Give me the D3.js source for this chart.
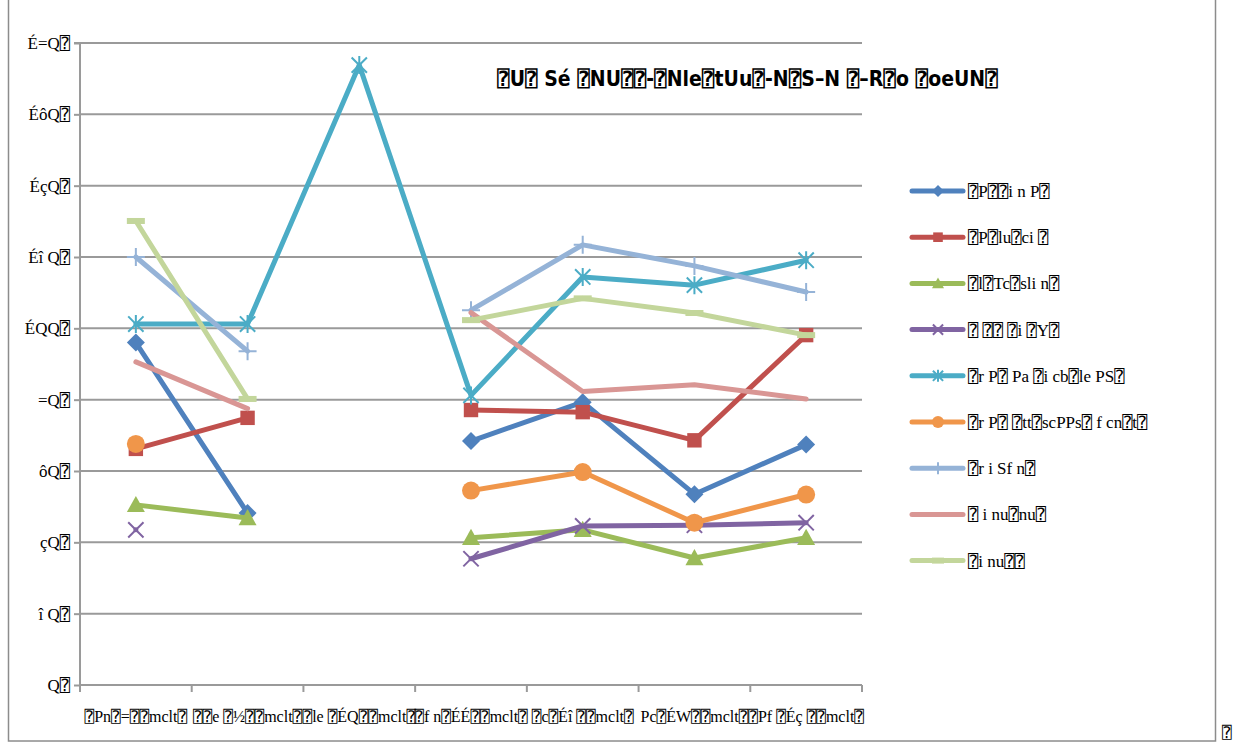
<!DOCTYPE html>
<html>
<head>
<meta charset="utf-8">
<script src="https://cdn.jsdelivr.net/npm/d3@7"></script>
<style>
  body { margin: 0; background: #fff; }
  svg text { font-family: "Liberation Serif", "DejaVu Sans Mono", "DejaVu Sans", serif; }
  svg text.title { font-family: "Liberation Sans Narrow", "DejaVu Sans Condensed", "DejaVu Sans Mono", sans-serif; font-weight: bold; }
</style>
</head>
<body>
<svg id="chart" width="1239" height="742"></svg>
<script>
// missing glyph box
const T = "\u2370";
const fix = s => s.replace(/□/g, T);

// chart data
const categories = ["□Pn□=□□mclt□", "□□e □½□□mclt□", "□le □ÉQ□□mclt□", "□f n□ÉÉ□□mclt□",
  "□c□Éî □□mclt□", "Pc□ÉW□□mclt□", "□Pf □Éç □□mclt□"].map(fix);
const yTicks = [0, 20, 40, 60, 80, 100, 120, 140, 160, 180];
const yTickLabels = ["Q□", "î Q□", "çQ□", "ôQ□", "=Q□", "ÉQQ□", "Éî Q□", "ÉçQ□", "ÉôQ□", "É=Q□"].map(fix);
const titleText = fix("□U□ Sé □NU□□-□Nle□tUu□-N□S–N □–R□o □oeUN□");

const seriesNames = ["□P□□i n  P□", "□P□lu□ci □", "□l□Tc□sli n□", "□ □□ □i   □Y□",
  "□r P□ Pa □i cb□le PS□", "□r P□  □tt□scPPs□ f cn□t□", "□r i Sf n□", "□ i nu□nu□", "□i nu□□"].map(fix);
const seriesColors = ["#4F81BD", "#C0504D", "#9BBB59", "#8064A2", "#4BACC6", "#F0964A", "#95B3D7", "#D99694", "#C3D69B"];
const seriesMarkers = ["diamond", "square", "triangle", "x", "star", "circle", "plus", "none", "dash"];

const s1 = [96, 48.2, null, 68.4, 79.3, 53.5, 67.4];
const s2 = [66.2, 74.9, null, 77.1, 76.5, 68.6, 98.1];
const s3 = [50.5, 46.8, null, 41.3, 43.5, 35.6, 41.3];
const s4 = [43.5, null, null, 35.4, 44.6, 44.8, 45.5];
const s5 = [101.2, 101.2, 173.8, 81.2, 114.4, 112.1, 119.1];
const s6 = [67.6, null, null, 54.5, 59.7, 45.5, 53.4];
const s7 = [120, 93.6, null, 105.1, 123.4, 117.5, 110.2];
const s8 = [90.6, 77.5, null, 104.4, 82.3, 84.2, 80.2];
const s9 = [130.1, 80.2, null, 102.3, 108.4, 104.3, 98.1];
const seriesValues = [s1, s2, s3, s4, s5, s6, s7, s8, s9];

const svg = d3.select("#chart");

// outer frame
svg.append("rect")
  .attr("x", 8.5).attr("y", -2)
  .attr("width", 1207).attr("height", 743)
  .attr("fill", "none").attr("stroke", "#8c8c8c").attr("stroke-width", 1.5);

svg.append("text")
  .attr("x", 1222).attr("y", 738)
  .attr("font-size", "16px")
  .text(T);

const plot = { left: 80, right: 862, top: 43, bottom: 685 };

const x = d3.scalePoint()
  .domain(d3.range(categories.length))
  .range([plot.left, plot.right])
  .padding(0.5);
const step = x.step();

const y = d3.scaleLinear().domain([0, 180]).range([plot.bottom, plot.top]);

// gridlines
svg.append("g")
  .selectAll("line")
  .data(yTicks)
  .join("line")
  .attr("x1", plot.left).attr("x2", plot.right)
  .attr("y1", d => y(d)).attr("y2", d => y(d))
  .attr("stroke", "#9a9a9a").attr("stroke-width", 2);

// y axis
const yAxis = svg.append("g")
  .attr("transform", `translate(${plot.left},0)`)
  .call(d3.axisLeft(y).tickValues(yTicks).tickSize(6).tickPadding(4)
    .tickFormat((d, i) => yTickLabels[i]));
yAxis.attr("font-family", null);
yAxis.select(".domain").attr("stroke", "#9a9a9a").attr("stroke-width", 2)
  .attr("d", `M-6,${plot.top}H0V${plot.bottom + 2}`);
yAxis.selectAll(".tick line").attr("stroke", "#9a9a9a").attr("stroke-width", 2);
yAxis.selectAll(".tick text")
  .attr("font-size", "17px").attr("fill", "#000");

// x axis
const xAxisG = svg.append("g").attr("transform", `translate(0,${plot.bottom})`);
xAxisG.append("line")
  .attr("x1", plot.left).attr("x2", plot.right)
  .attr("stroke", "#9a9a9a").attr("stroke-width", 2);
xAxisG.selectAll(".xt")
  .data(d3.range(categories.length + 1))
  .join("line")
  .attr("class", "xt")
  .attr("x1", d => plot.left + d * step).attr("x2", d => plot.left + d * step)
  .attr("y1", 0).attr("y2", 7)
  .attr("stroke", "#9a9a9a").attr("stroke-width", 2);
xAxisG.selectAll(".xl")
  .data(categories)
  .join("text")
  .attr("class", "xl")
  .attr("x", (d, i) => x(i))
  .attr("y", 37)
  .attr("text-anchor", "middle")
  .attr("font-size", "16px")
  .text(d => d);

// marker drawing
function drawMarker(g, type, color, size) {
  const s = size;
  if (type === "diamond") {
    g.append("path").attr("d", `M0,${-s}L${s},0L0,${s}L${-s},0Z`).attr("fill", color);
  } else if (type === "square") {
    g.append("rect").attr("x", -s * 0.8).attr("y", -s * 0.8)
      .attr("width", s * 1.6).attr("height", s * 1.6).attr("fill", color);
  } else if (type === "triangle") {
    g.append("path").attr("d", `M0,${-s}L${s},${s * 0.8}L${-s},${s * 0.8}Z`).attr("fill", color);
  } else if (type === "circle") {
    g.append("circle").attr("r", s).attr("fill", color);
  } else if (type === "x") {
    const a = s * 0.85;
    g.append("path").attr("d", `M${-a},${-a}L${a},${a}M${a},${-a}L${-a},${a}`)
      .attr("stroke", color).attr("stroke-width", 2).attr("fill", "none");
  } else if (type === "star") {
    const a = s * 0.85;
    g.append("path").attr("d", `M${-a},${-a}L${a},${a}M${a},${-a}L${-a},${a}M0,${-s}L0,${s}`)
      .attr("stroke", color).attr("stroke-width", 2).attr("fill", "none");
  } else if (type === "plus") {
    g.append("path").attr("d", `M${-s},0L${s},0M0,${-s}L0,${s}`)
      .attr("stroke", color).attr("stroke-width", 2).attr("fill", "none");
  } else if (type === "dash") {
    g.append("rect").attr("x", -s).attr("y", -3).attr("width", s * 2).attr("height", 6)
      .attr("fill", color);
  }
}

const line = d3.line()
  .defined(d => d.v != null)
  .x(d => x(d.i))
  .y(d => y(d.v));

seriesValues.forEach((vals, k) => {
  const pts = vals.map((v, i) => ({ i: i, v: v }));
  const g = svg.append("g");
  g.append("path")
    .attr("d", line(pts))
    .attr("fill", "none")
    .attr("stroke", seriesColors[k])
    .attr("stroke-width", 5)
    .attr("stroke-linecap", "round")
    .attr("stroke-linejoin", "round");
  pts.filter(d => d.v != null).forEach(d => {
    const m = g.append("g").attr("transform", `translate(${x(d.i)},${y(d.v)})`);
    drawMarker(m, seriesMarkers[k], seriesColors[k], 9);
  });
});

// title
svg.append("text")
  .attr("class", "title")
  .attr("x", 497).attr("y", 86)
  .attr("font-size", "21px")
  .text(titleText);

// legend
const legend = svg.append("g").attr("transform", "translate(910,191)");
const rows = legend.selectAll("g")
  .data(seriesNames)
  .join("g")
  .attr("transform", (d, i) => `translate(0,${i * 46.2})`);
rows.append("line")
  .attr("x1", 2).attr("x2", 53)
  .attr("stroke", (d, i) => seriesColors[i])
  .attr("stroke-width", 5)
  .attr("stroke-linecap", "round");
rows.each(function (d, i) {
  const m = d3.select(this).append("g").attr("transform", "translate(28,0)");
  drawMarker(m, seriesMarkers[i], seriesColors[i], 6);
});
rows.append("text")
  .attr("x", 58).attr("y", 6)
  .attr("font-size", "17px")
  .text(d => d);
</script>
</body>
</html>
